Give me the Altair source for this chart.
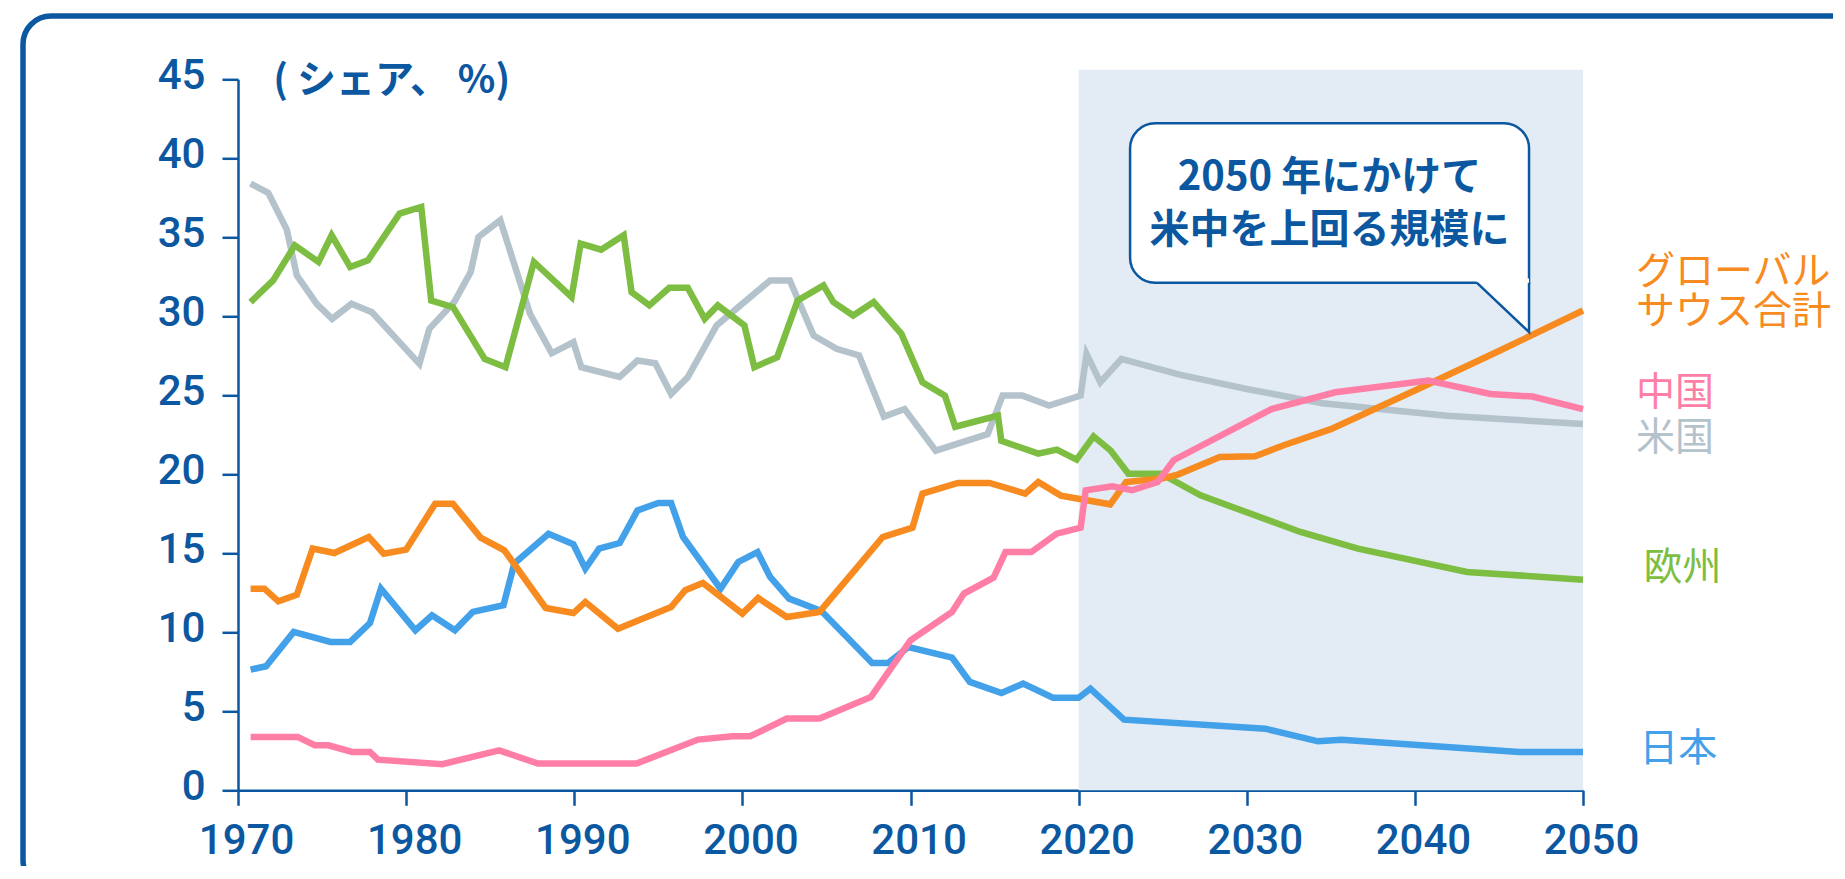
import altair as alt
import pandas as pd

# ---------------- data ----------------
gs_years = [1970.75, 1971.57, 1972.4, 1973.5, 1974.44, 1975.73, 1977.78, 1978.67, 1980.0, 1981.73,
            1982.78, 1984.43, 1985.84, 1988.3, 1989.95, 1990.66, 1992.6, 1995.76, 1996.6, 1997.65,
            2000.0, 2000.94, 2002.64, 2004.59, 2008.35, 2010.12, 2010.71, 2012.82, 2014.7, 2016.82,
            2017.6, 2018.94, 2021.88, 2022.82, 2024.94, 2025.9, 2028.4, 2030.5, 2032.2, 2035.0,
            2040.0, 2045.0, 2050.0]
gs_share = [12.76, 12.76, 11.96, 12.38, 15.3, 15.02, 16.03, 14.98, 15.23, 18.14,
            18.14, 15.99, 15.19, 11.54, 11.22, 11.92, 10.23, 11.6, 12.66, 13.12,
            11.18, 12.17, 10.97, 11.29, 16.03, 16.62, 18.78, 19.45, 19.45, 18.78,
            19.51, 18.65, 18.1, 19.51, 19.73, 19.98, 21.1, 21.14, 21.84, 22.86,
            25.3, 27.8, 30.37]

cn_years = [1970.75, 1973.55, 1974.56, 1975.38, 1976.79, 1977.85, 1978.32, 1982.15, 1985.53, 1987.84,
            1993.7, 1997.36, 1999.41, 2000.47, 2002.64, 2004.59, 2007.65, 2010.0, 2012.47, 2013.18,
            2014.94, 2015.65, 2017.18, 2018.7, 2020.12, 2020.42, 2022.0, 2023.18, 2024.7, 2025.65,
            2031.47, 2035.27, 2040.8, 2044.5, 2047.0, 2050.0]
cn_share = [3.38, 3.38, 2.85, 2.85, 2.43, 2.43, 1.94, 1.65, 2.53, 1.69,
            1.69, 3.21, 3.42, 3.42, 4.54, 4.54, 5.91, 9.49, 11.29, 12.45,
            13.46, 15.08, 15.08, 16.24, 16.62, 18.99, 19.24, 18.99, 19.51, 20.89,
            24.13, 25.19, 25.93, 25.08, 24.92, 24.13]

jp_years = [1970.75, 1971.67, 1973.31, 1975.5, 1976.67, 1977.85, 1978.5, 1980.55, 1981.54, 1982.9,
            1983.96, 1985.79, 1986.43, 1988.47, 1989.95, 1990.66, 1991.48, 1992.7, 1993.76, 1995.0,
            1995.76, 1996.47, 1998.7, 1999.76, 2000.9, 2001.65, 2002.78, 2004.7, 2007.72, 2008.66,
            2009.88, 2012.47, 2013.53, 2015.41, 2016.7, 2018.47, 2020.0, 2020.7, 2022.7, 2031.1,
            2034.24, 2035.64, 2046.2, 2050.0]
jp_share = [7.64, 7.85, 10.02, 9.39, 9.39, 10.59, 12.76, 10.13, 11.08, 10.13,
            11.29, 11.71, 14.35, 16.24, 15.57, 14.03, 15.3, 15.65, 17.72, 18.19,
            18.19, 16.03, 12.76, 14.45, 15.08, 13.5, 12.13, 11.35, 8.06, 8.06,
            9.07, 8.4, 6.86, 6.16, 6.75, 5.86, 5.86, 6.43, 4.47, 3.9,
            3.1, 3.2, 2.43, 2.43]

us_years = [1970.75, 1971.8, 1972.9, 1973.5, 1974.68, 1975.6, 1976.75, 1977.97, 1980.79, 1981.38,
            1982.86, 1983.84, 1984.3, 1985.6, 1987.37, 1988.66, 1989.95, 1990.42, 1992.7, 1993.76,
            1994.82, 1995.76, 1996.75, 1998.47, 2001.65, 2002.82, 2004.24, 2005.6, 2006.94, 2008.42,
            2009.65, 2011.5, 2014.59, 2015.48, 2016.66, 2018.24, 2020.12, 2020.47, 2021.29, 2022.54,
            2026.0, 2030.0, 2034.5, 2041.9, 2050.0]
us_share = [38.4, 37.81, 35.49, 32.59, 30.79, 29.84, 30.79, 30.26, 26.99, 29.21,
            30.9, 32.8, 35.02, 36.08, 30.16, 27.66, 28.36, 26.78, 26.16, 27.2,
            27.03, 25.08, 26.14, 29.42, 32.27, 32.27, 28.78, 27.94, 27.52, 23.65,
            24.13, 21.5, 22.55, 24.98, 24.98, 24.35, 24.98, 27.62, 25.82, 27.3,
            26.31, 25.4, 24.49, 23.71, 23.18]

eu_years = [1970.75, 1972.09, 1973.38, 1974.79, 1975.57, 1976.67, 1977.73, 1979.61, 1980.9, 1981.49,
            1982.79, 1984.67, 1985.91, 1987.6, 1989.84, 1990.38, 1991.6, 1992.94, 1993.41, 1994.47,
            1995.65, 1996.75, 1997.76, 1998.54, 2000.12, 2000.71, 2002.07, 2003.29, 2004.82, 2005.41,
            2006.59, 2007.81, 2009.46, 2010.71, 2012.05, 2012.66, 2015.2, 2015.4, 2017.6, 2018.7,
            2019.88, 2020.89, 2021.9, 2022.96, 2024.9, 2027.25, 2033.19, 2036.62, 2043.1, 2050.0]
eu_share = [30.9, 32.27, 34.49, 33.44, 35.13, 33.12, 33.54, 36.5, 36.92, 31.0,
            30.58, 27.3, 26.78, 33.44, 31.22, 34.6, 34.22, 35.13, 31.53, 30.69,
            31.81, 31.81, 29.84, 30.69, 29.42, 26.78, 27.41, 31.0, 31.96, 30.9,
            30.05, 30.9, 28.89, 25.82, 24.98, 23.01, 23.71, 22.12, 21.31, 21.56,
            20.93, 22.4, 21.5, 20.04, 20.04, 18.67, 16.35, 15.3, 13.82, 13.33]

year_ticks = [1970, 1980, 1990, 2000, 2010, 2020, 2030, 2040, 2050]
share_ticks = [0, 5, 10, 15, 20, 25, 30, 35, 40, 45]

forecast_span = [2020, 2050]
callout_lines = ["2050 年にかけて", "米中を上回る規模に"]
axis_title = "( シェア、 %)"

# ---------------- styles ----------------
DARK = "#0b57a0"
JP = "Noto Sans CJK JP"
NUM = "Roboto"

series = [
    ("米国", us_years, us_share, "#b4c2cc"),
    ("欧州", eu_years, eu_share, "#7dbe42"),
    ("日本", jp_years, jp_share, "#43a1ea"),
    ("グローバルサウス合計", gs_years, gs_share, "#f78b1f"),
    ("中国", cn_years, cn_share, "#ff7ea6"),
]

x_scale = alt.Scale(domain=[1970, 2050], nice=False, zero=False)
y_scale = alt.Scale(domain=[0, 45], nice=False, zero=True)

x_axis = alt.Axis(values=year_ticks, format="d", title=None, grid=False,
                  domainColor=DARK, domainWidth=2.5, tickColor=DARK, tickWidth=2.5, tickSize=15,
                  labelFont=NUM, labelFontWeight=500, labelFontSize=42, labelColor=DARK,
                  labelPadding=15, labelOffset=8, labelFlush=False, labelOverlap=False)
y_axis = alt.Axis(values=share_ticks, title=None, grid=False,
                  domainColor=DARK, domainWidth=2.5, tickColor=DARK, tickWidth=2.5, tickSize=16,
                  labelFont=NUM, labelFontWeight=500, labelFontSize=42, labelColor=DARK,
                  labelPadding=17, labelOffset=-4, labelOverlap=False)


def X(field):
    return alt.X(field, type="quantitative", scale=x_scale, axis=x_axis)


def Y(field):
    return alt.Y(field, type="quantitative", scale=y_scale, axis=y_axis)


layers = []

# outer rounded frame (decoration)
frame = alt.Chart(pd.DataFrame({"k": [0]})).mark_rect(
    fill="transparent", stroke=DARK, strokeWidth=5.5, cornerRadius=28
).encode(x=alt.value(-215), x2=alt.value(1700), y=alt.value(-63.3), y2=alt.value(808.7))
layers.append(frame)

# forecast shading
shade = alt.Chart(pd.DataFrame({"x": [forecast_span[0]], "x2": [forecast_span[1]],
                                "y": [45.6], "y2": [0]})).mark_rect(color="#e3ecf5").encode(
    x=X("x"), x2="x2", y=Y("y"), y2="y2")
layers.append(shade)

for name, yrs, vals, col in series:
    df = pd.DataFrame({"year": yrs, "share": vals, "region": name})
    layers.append(alt.Chart(df).mark_line(color=col, strokeWidth=6.5, strokeJoin="miter").encode(
        x=X("year"), y=Y("share")))

# callout box
box = alt.Chart(pd.DataFrame({"x": [2023.06], "x2": [2046.79], "y": [42.22], "y2": [32.13]})).mark_rect(
    fill="white", stroke=DARK, strokeWidth=2.5,
    cornerRadiusTopLeft=25, cornerRadiusTopRight=25, cornerRadiusBottomLeft=25, cornerRadiusBottomRight=0
).encode(x=X("x"), x2="x2", y=Y("y"), y2="y2")
layers.append(box)

ptr_fill = alt.Chart(pd.DataFrame({"x": [2043.68, 2046.79], "y": [32.13, 29.0], "y2": [32.4, 32.4]})).mark_area(
    color="white").encode(x=X("x"), y=Y("y"), y2="y2")
layers.append(ptr_fill)

ptr_line = alt.Chart(pd.DataFrame({"x": [2043.68, 2046.79, 2046.79], "y": [32.13, 29.0, 32.13],
                                   "o": [0, 1, 2]})).mark_line(color=DARK, strokeWidth=2.5).encode(
    x=X("x"), y=Y("y"), order="o:Q")
layers.append(ptr_line)

callout = alt.Chart(pd.DataFrame({"x": [2034.92, 2034.92], "y": [38.75, 35.37], "t": callout_lines})).mark_text(
    font=JP, fontSize=40, fontWeight="bold", color=DARK, align="center", baseline="middle").encode(
    x=X("x"), y=Y("y"), text="t:N")
layers.append(callout)

title = alt.Chart(pd.DataFrame({"x": [1972.1], "y": [44.9], "t": [axis_title]})).mark_text(
    font=JP, fontSize=39, fontWeight="bold", color=DARK, align="left", baseline="middle").encode(
    x=X("x"), y=Y("y"), text="t:N")
layers.append(title)

labels = pd.DataFrame({
    "x": [2053.15, 2053.15, 2053.15, 2053.6, 2053.35],
    "y": [32.78, 25.15, 22.3, 14.08, 2.6],
    "t": ["グローバル\nサウス合計", "中国", "米国", "欧州", "日本"],
    "c": ["#f78b1f", "#ff7ea6", "#b4c2cc", "#7dbe42", "#43a1ea"],
})
lab = alt.Chart(labels).mark_text(font=JP, fontSize=39, fontWeight="normal", align="left",
                                   baseline="middle", lineBreak="\n", lineHeight=39.4).encode(
    x=X("x"), y=Y("y"), text="t:N", color=alt.Color("c:N", scale=None))
layers.append(lab)

chart = alt.layer(*layers).properties(
    width=1345, height=711,
    autosize=alt.AutoSizeParams(type="none"),
    padding={"left": 230, "top": 71.3, "right": 250, "bottom": 75.7},
    background="white",
).configure_view(strokeWidth=0)

chart.save("out.html", embed_options={"renderer": "svg", "actions": False})
